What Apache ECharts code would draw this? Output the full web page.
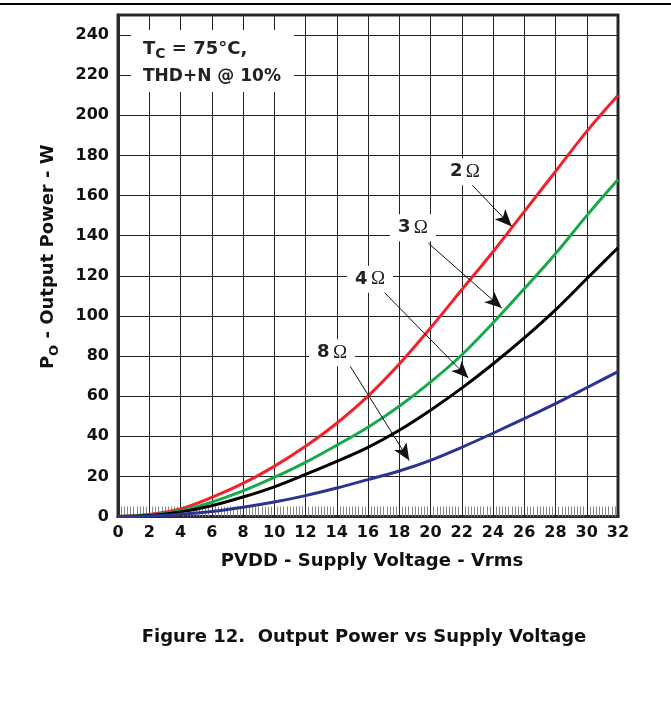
<!DOCTYPE html>
<html><head><meta charset="utf-8">
<script src="https://cdn.jsdelivr.net/npm/echarts@6/dist/echarts.min.js"></script>
<style>html,body{margin:0;padding:0;background:#fff}#c{width:671px;height:719px}</style>
</head><body><div id="c"></div><script>
const voltage = [0,2,4,6,8,10,12,14,16,18,20,22,24,26,28,30,32];
const power2ohm = [0,1,3.8,9.5,16.5,25,35,46.5,60,76,94,113,132,152,172,192,210];
const power3ohm = [0,0.7,2.9,7.2,12.8,19.5,27,35.5,44.5,55,67,80.5,96.5,113.5,131,150,168];
const power4ohm = [0,0.5,2.3,5.4,9.7,14.8,21,27.5,34.5,43,53,64,76,89,103,118.5,134];
const power8ohm = [0,0.3,1.1,2.5,4.6,7.2,10.4,14.2,18.4,22.7,28,34.5,41.5,48.8,56.3,64.2,72.2];
const xTickStep = 2, xMax = 32;
const yTickStep = 20, yMax = 250;
const seriesNames = ['2 Ω','3 Ω','4 Ω','8 Ω'];
const seriesColors = ['#f0222a','#17a94a','#000000','#2b3393'];
// annotation label positions and arrows in data units [V, W]
const labelPos = [[22.2,171.9],[18.88,144],[16.13,118.3],[13.7,81.6]];
const arrowFrom = [[22.64,165.4],[19.86,136.3],[16.98,112.2],[14.74,76.4]];
const arrowTo = [[25.2,144.6],[24.56,103.9],[22.42,69.0],[18.64,27.9]];

const allPower = [power2ohm, power3ohm, power4ohm, power8ohm];
const FONT = '"DejaVu Sans", "Liberation Sans", sans-serif';

const chart = echarts.init(document.getElementById('c'), null, {renderer:'canvas'});
const series = allPower.map((p, i) => ({
  name: seriesNames[i],
  type: 'line',
  data: voltage.map((v, k) => [v, p[k]]),
  showSymbol: false,
  smooth: 0.35,
  lineStyle: {color: seriesColors[i], width: 3},
  itemStyle: {color: seriesColors[i]},
  z: 3,
  animation: false,
  markLine: {
    silent: true, animation: false,
    symbol: ['none','arrow'], symbolSize: [11, 17],
    lineStyle: {color: '#111', width: 1, type: 'solid'},
    label: {show: false},
    data: [[{coord: arrowFrom[i]}, {coord: arrowTo[i]}]]
  },
  markPoint: {
    silent: true, animation: false,
    symbol: 'circle', symbolSize: 1,
    itemStyle: {color: 'rgba(0,0,0,0)'},
    label: {
      show: true, position: 'inside',
      formatter: '{n|' + seriesNames[i].split(' ')[0] + '} {o|Ω}',
      backgroundColor: '#fff', padding: [4, 8],
      rich: {
        n: {fontFamily: FONT, fontWeight: 'bold', fontSize: 18, color: '#222'},
        o: {fontFamily: '"Liberation Serif", "DejaVu Serif", serif', fontSize: 19, color: '#222'}
      }
    },
    data: [{coord: labelPos[i]}]
  }
}));

chart.setOption({
  animation: false,
  backgroundColor: '#fff',
  grid: {left: 118, right: 53, top: 15, bottom: 202.5, containLabel: false, outerBoundsMode: 'none',
         show: true, borderColor: '#2a2a2a', borderWidth: 3, backgroundColor: 'transparent'},
  xAxis: {
    type: 'value', min: 0, max: xMax, interval: xTickStep,
    name: 'PVDD - Supply Voltage - Vrms', nameLocation: 'middle', nameGap: 36,
    nameTextStyle: {fontFamily: FONT, fontWeight: 'bold', fontSize: 18, color: '#111', padding: [0, 0, 0, 8]},
    axisLine: {show: true, lineStyle: {color: '#2a2a2a', width: 3}},
    axisTick: {show: false, inside: true},
    minorTick: {show: true, splitNumber: 10, length: 10, lineStyle: {color: '#888', width: 1}},
    axisLabel: {fontFamily: FONT, fontWeight: 'bold', fontSize: 16, color: '#111', margin: 8},
    splitLine: {show: true, lineStyle: {color: '#222', width: 1}}
  },
  yAxis: {
    type: 'value', min: 0, max: yMax, interval: yTickStep,
    name: '{a|P}{s|O}{a| - Output Power - W}', nameLocation: 'middle', nameGap: 57,
    nameTextStyle: {padding: [0, 0, 0, 18], rich: {
      a: {fontFamily: FONT, fontWeight: 'bold', fontSize: 18, color: '#111', lineHeight: 26},
      s: {fontFamily: FONT, fontWeight: 'bold', fontSize: 13, color: '#111', verticalAlign: 'bottom', lineHeight: 26}
    }},
    axisLine: {show: true, lineStyle: {color: '#2a2a2a', width: 3}},
    axisTick: {show: false},
    axisLabel: {fontFamily: FONT, fontWeight: 'bold', fontSize: 16, color: '#111', margin: 9, showMaxLabel: false},
    splitLine: {show: true, lineStyle: {color: '#222', width: 1}}
  },
  series: series,
  graphic: [
    {type: 'line', z: 100, shape: {x1: 0, y1: 4, x2: 671, y2: 4}, style: {stroke: '#000', lineWidth: 2}},
    {type: 'rect', z: 100, shape: {x: 131, y: 30, width: 163, height: 62}, style: {fill: '#fff'}},
    {type: 'text', z: 101, x: 143, y: 49, style: {
      text: '{a|T}{s|C}{a| = 75°C,}', verticalAlign: 'middle', align: 'left',
      rich: {
        a: {fontFamily: FONT, fontWeight: 'bold', fontSize: 18, fill: '#222', lineHeight: 24},
        s: {fontFamily: FONT, fontWeight: 'bold', fontSize: 14, fill: '#222', verticalAlign: 'bottom', lineHeight: 24}
      }}},
    {type: 'text', z: 101, x: 143, y: 77, style: {
      text: 'THD+N @ 10%', verticalAlign: 'middle', align: 'left',
      font: 'bold 17px ' + FONT, fill: '#222'}},
    {type: 'text', z: 101, x: 364, y: 637, style: {
      text: 'Figure 12.  Output Power vs Supply Voltage', verticalAlign: 'middle', align: 'center',
      font: 'bold 18px ' + FONT, fill: '#111'}}
  ]
});
</script></body></html>
